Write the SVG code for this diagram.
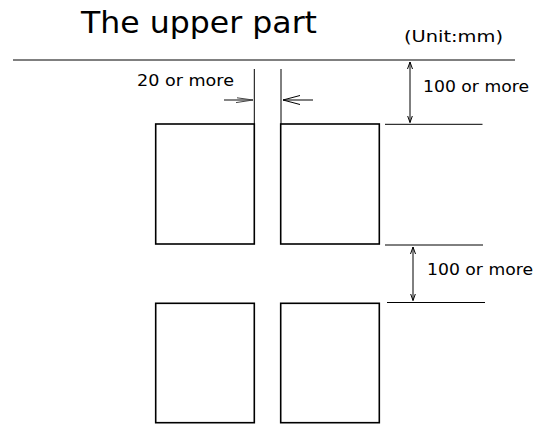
<svg xmlns="http://www.w3.org/2000/svg" width="546" height="425" viewBox="0 0 546 425">
<style>
.t{font-family:"DejaVu Sans","Liberation Sans",sans-serif;fill:#000}
.box{fill:#fff;stroke:#000;stroke-width:1.6}
.ln{stroke:#000;stroke-width:1;fill:none}
.hd{stroke:#000;stroke-width:1;fill:none}
</style>
<defs>
<marker id="vh" markerUnits="userSpaceOnUse" viewBox="0 0 7 6" refX="7" refY="3" markerWidth="7" markerHeight="6" orient="auto-start-reverse">
<path d="M0,0.5 L7,3 L0,5.5" class="hd"/>
</marker>
</defs>
<rect width="546" height="425" fill="#fff"/>
<text class="t" x="81" y="32.5" font-size="30" textLength="236" lengthAdjust="spacingAndGlyphs">The upper part</text>
<text class="t" x="404" y="41.5" font-size="16" textLength="99" lengthAdjust="spacingAndGlyphs">(Unit:mm)</text>
<line class="ln" x1="13" y1="60" x2="515" y2="60" stroke-width="1.5"/>
<g id="box-top-left"><rect class="box" x="155.7" y="124" width="98.6" height="120"/></g>
<g id="box-top-right"><rect class="box" x="280.7" y="124" width="98.6" height="120"/></g>
<g id="box-bottom-left"><rect class="box" x="155.7" y="303.3" width="98.6" height="119.4"/></g>
<g id="box-bottom-right"><rect class="box" x="280.7" y="303.3" width="98.6" height="119.4"/></g>
<g id="connectors">
<line class="ln" x1="254.3" y1="69" x2="254.3" y2="124"/>
<line class="ln" x1="281" y1="69" x2="281" y2="124"/>
<line x1="224" y1="100" x2="253" y2="100" stroke="#666" stroke-width="1.6"/>
<polyline points="237,97.8 253,100 236,102.6" fill="none" stroke="#444" stroke-width="1"/>
<line class="ln" x1="313" y1="100" x2="283" y2="100"/>
<polyline class="hd" points="300,95.5 283,100 300,104.5"/>
<line class="ln" x1="385" y1="124.3" x2="482.5" y2="124.3"/>
<line class="ln" x1="385" y1="245" x2="483" y2="245"/>
<line class="ln" x1="387" y1="302.5" x2="485" y2="302.5"/>
<line class="ln" x1="410" y1="62" x2="410" y2="122.5" marker-start="url(#vh)" marker-end="url(#vh)"/>
<line class="ln" x1="413" y1="247" x2="413" y2="300.5" marker-start="url(#vh)" marker-end="url(#vh)"/>
</g>
<text class="t" x="137" y="86" font-size="15" textLength="97" lengthAdjust="spacingAndGlyphs">20 or more</text>
<text class="t" x="423" y="92" font-size="15.5" textLength="106" lengthAdjust="spacingAndGlyphs">100 or more</text>
<text class="t" x="427" y="275" font-size="15.5" textLength="106" lengthAdjust="spacingAndGlyphs">100 or more</text>
</svg>
